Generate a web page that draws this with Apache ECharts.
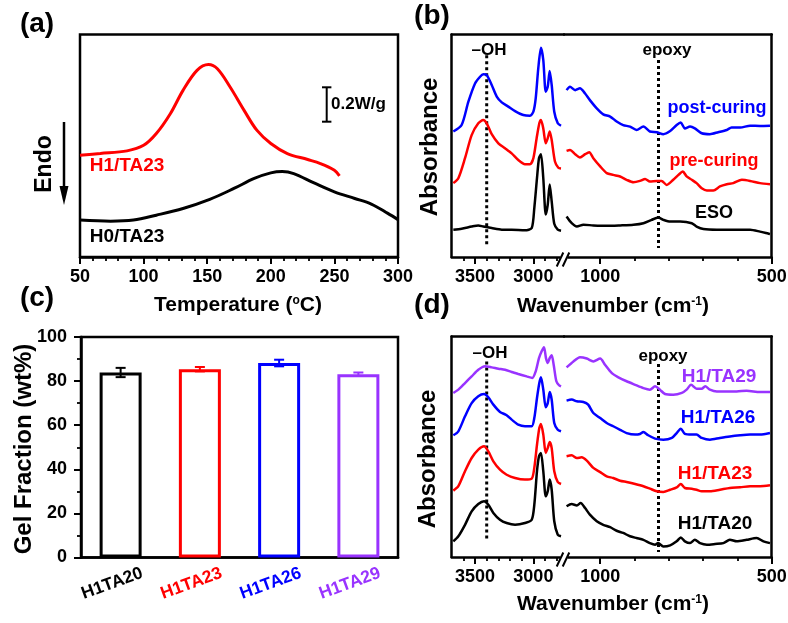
<!DOCTYPE html>
<html><head><meta charset="utf-8">
<script src="https://cdn.jsdelivr.net/npm/echarts@6/dist/echarts.min.js"></script>
<style>html,body{margin:0;padding:0;background:#fff}#c{width:788px;height:623px}</style>
</head><body><div id="c"></div>
<script>
// ---------------- DATA ----------------
// (a) DSC curves: temperature (°C) and heat flow (arbitrary offset units)
const dscTempH1 = [50,66,87,100,110,121,131,142,151,158,168,179,189,200,213,229,239,250,254];
const dscFlowH1 = [45.7,46.5,47.7,50.2,55.5,64.4,74.9,83.9,86.5,84.6,76.4,65.9,57.0,51.0,46.5,43.8,42.0,39.0,36.5];
const dscTempH0 = [50,74,92,110,131,152,171,187,200,209,218,234,250,266,279,292,300];
const dscFlowH0 = [16.6,16.1,16.6,18.8,21.8,25.9,30.8,35.3,37.8,38.4,37.5,33.3,29.3,26.3,23.8,19.6,16.8];

// (b) FTIR, high wavenumber segment
const bPostL_wn = [3686,3615,3557,3500,3457,3429,3400,3357,3314,3271,3215,3157,3086,3029,3000,2980,2958,2935,2915,2894,2877,2860,2843,2821,2791,2763];
const bPostL_a  = [56.4,59.3,69.8,78.0,81.0,82.1,81.8,77.3,72.1,69.5,67.6,65.6,63.8,63.5,65.3,71.3,84.8,94.0,88.5,74.3,76.5,83.6,77.3,65.3,60.1,59.0];
const bPreL_wn  = [3686,3643,3586,3529,3472,3429,3400,3357,3300,3243,3186,3129,3072,3029,3000,2972,2949,2935,2915,2894,2877,2860,2843,2815,2786,2763];
const bPreL_a   = [33.2,35.4,44.4,54.8,60.1,61.6,60.1,55.2,51.1,48.9,46.6,43.6,41.7,41.7,44.4,53.4,60.1,61.6,57.8,51.1,53.4,56.4,52.6,42.9,40.1,39.8];
const bEsoL_wn  = [3686,3615,3529,3472,3429,3357,3271,3186,3072,3014,2992,2969,2952,2935,2915,2894,2877,2860,2843,2821,2791,2763];
const bEsoL_a   = [12.3,12.7,13.7,14.2,13.7,13.0,12.3,12.3,12.0,13.0,22.0,35.4,44.4,46.2,35.4,19.1,23.5,32.6,25.0,14.9,12.3,11.8];
// (b) FTIR, low wavenumber segment
const bPostR_wn = [1098,1088,1073,1059,1044,1030,1010,991,971,952,933,913,894,874,855,835,816,796,777,765,753,738,724,704,680,656,631,617,592,563,534,505];
const bPostR_a  = [75.0,76.5,75.0,75.8,73.5,70.5,66.8,64.1,63.1,60.9,59.3,58.6,57.1,58.6,56.4,56.1,55.2,56.6,59.3,60.4,57.8,58.6,57.8,55.6,55.2,56.1,57.1,58.2,58.2,59.0,58.9,59.0];
const bPreR_wn  = [1098,1088,1073,1059,1044,1032,1020,1000,981,962,942,923,903,884,869,855,835,821,806,787,772,759,748,733,719,704,689,670,651,631,612,587,563,534,505];
const bPreR_a   = [47.7,48.1,46.2,44.7,46.2,47.1,44.4,40.7,37.7,36.9,36.2,34.7,33.6,34.2,35.1,33.9,34.2,34.2,32.4,34.7,36.9,38.4,36.2,34.7,33.2,30.9,29.9,29.9,31.7,32.7,33.2,34.7,34.2,33.2,32.7];
const bEsoR_wn  = [1098,1083,1068,1049,1020,981,942,903,874,850,831,816,796,767,733,719,699,660,612,563,534,505];
const bEsoR_a   = [18.2,15.2,13.7,14.5,14.2,14.0,14.2,14.5,15.2,16.7,17.7,16.7,15.9,15.9,15.2,13.7,12.6,12.3,12.3,12.3,11.4,10.3];

// (d) FTIR, high wavenumber segment
const dT29L_wn = [3686,3643,3586,3529,3472,3414,3357,3300,3243,3186,3129,3057,3009,2980,2952,2929,2909,2892,2877,2860,2843,2826,2803,2780,2763];
const dT29L_a  = [74.4,75.9,78.9,81.9,84.9,86.5,86.0,85.4,84.9,83.9,83.0,81.9,81.2,84.2,90.2,93.3,95.1,90.2,88.0,90.2,91.5,87.2,79.7,77.9,77.4];
const dT26L_wn = [3686,3643,3586,3529,3472,3423,3386,3343,3286,3229,3186,3129,3072,3014,2992,2969,2949,2935,2915,2894,2877,2860,2843,2821,2791,2763];
const dT26L_a  = [55.2,57.0,63.8,69.8,72.9,73.9,72.4,69.1,65.8,64.3,62.3,60.0,59.3,59.3,63.0,72.1,78.9,81.5,75.9,67.9,69.8,74.8,71.3,60.8,57.7,57.0];
const dT23L_wn = [3686,3643,3586,3529,3472,3423,3386,3343,3286,3229,3157,3072,3014,2992,2969,2949,2935,2915,2894,2877,2860,2843,2821,2791,2763];
const dT23L_a  = [30.1,32.1,38.9,44.9,48.7,50.2,47.9,43.4,39.6,37.3,35.8,35.1,35.5,40.4,50.9,58.5,60.3,55.5,47.2,49.4,52.2,49.4,38.9,34.0,33.1];
const dT20L_wn = [3686,3643,3586,3529,3472,3423,3386,3343,3286,3229,3157,3072,3014,2992,2969,2952,2935,2915,2894,2877,2860,2843,2821,2791,2763];
const dT20L_a  = [7.1,9.4,14.6,20.7,24.0,25.3,23.7,20.0,16.9,15.4,14.6,15.4,16.9,23.7,38.9,45.7,47.2,38.9,27.5,29.8,35.1,30.5,16.2,10.1,9.4];
// (d) FTIR, low wavenumber segment
const dT29R_wn = [1098,1078,1059,1039,1020,1000,986,966,947,923,898,874,855,840,826,811,787,762,748,735,719,704,694,680,660,631,602,573,534,505];
const dT29R_a  = [86.0,88.7,90.6,90.0,88.7,90.0,87.2,83.4,81.5,79.7,78.1,76.6,75.9,77.4,75.9,73.9,73.6,74.4,75.9,78.1,76.3,76.3,77.4,75.9,75.1,75.1,75.1,75.4,74.8,74.8];
const dT26R_wn = [1098,1083,1068,1049,1035,1020,1000,981,962,942,923,898,884,874,860,840,816,791,777,765,753,733,719,704,680,651,622,592,563,534,505];
const dT26R_a  = [70.9,71.4,70.6,70.3,69.1,65.3,63.0,60.8,59.3,57.7,56.2,55.5,55.8,56.7,55.2,53.7,53.2,54.0,56.2,58.2,55.8,55.5,55.5,54.0,53.2,54.0,54.7,55.2,55.5,55.5,56.2];
const dT23R_wn = [1098,1083,1068,1054,1039,1020,1000,981,962,942,923,898,874,855,835,816,796,777,765,753,733,719,704,680,651,622,592,563,534,505];
const dT23R_a  = [45.7,46.1,44.9,45.2,43.7,40.4,38.5,36.6,35.8,34.6,34.0,33.1,32.1,31.0,29.8,29.5,30.5,31.6,33.1,31.3,31.0,30.5,29.8,29.8,30.5,31.3,31.6,32.1,32.1,32.5];
const dT20R_wn = [1098,1083,1068,1057,1044,1030,1010,991,971,952,933,913,894,874,855,840,831,816,796,777,765,753,738,724,709,689,665,641,622,602,573,544,524,505];
const dT20R_a  = [23.0,24.0,23.4,24.5,22.2,19.2,16.2,14.6,13.5,11.9,10.9,9.4,8.6,7.8,6.3,5.6,6.3,4.8,5.3,7.1,8.9,7.1,6.3,7.8,6.3,5.6,5.9,6.3,7.8,7.1,7.8,8.6,7.1,6.3];

// reference lines (wavenumber, span in offset units)
const ohWn = 3400, epoxyWn = 830;
const bOhSpan = [90.7, 4.8], bEpoxySpan = [88.5, 4.0];
const dOhSpan = [88.7, 7.1], dEpoxySpan = [87.5, 2.3];

// (c) gel fraction
const gelCats = ['H1TA20','H1TA23','H1TA26','H1TA29'];
const gelMean = [83.9, 85.4, 88.2, 83.1];
const gelErr  = [2.1, 1.0, 1.5, 0.8];

// tick labels
const tempTicks = [50,100,150,200,250,300];
const hiWnLabels = [3500, 3000];
const hiWnMinor = [3600,3400,3300,3200,3100,2900,2800];
const loWnLabels = [1000, 500];
const loWnMinor = [900,800,700,600];

// ---------------- STYLE ----------------
const FONT = '"Liberation Sans", Arial, sans-serif';
const RED = '#ff0000', BLUE = '#0000ff', PURPLE = '#9933ff', BLACK = '#000000';
const gelColors = [BLACK, RED, BLUE, PURPLE];
const LW = 2.5;

const G = {
  a:  {left:80,    top:34.5, width:318,   height:222.5},
  bl: {left:451.7, top:34.5, width:112.3, height:222.5},
  br: {left:564,   top:34.5, width:207.7, height:222.5},
  c:  {left:81,    top:337,  width:317,   height:220.5},
  dl: {left:451.7, top:336.5,width:112.3, height:220.5},
  dr: {left:564,   top:336.5,width:207.7, height:220.5}
};
const HI_MIN = 2737.5, HI_MAX = 3700, LO_MIN = 500, LO_MAX = 1105.5;

function grid(g, border) {
  return Object.assign({containLabel:false, outerBoundsMode:'none', show:!!border,
    borderColor:BLACK, borderWidth:LW, backgroundColor:'transparent'}, g);
}
const labelStyle = {color:BLACK, fontSize:18, fontWeight:'bold', fontFamily:FONT};
const plain = v => String(v);
function frameX(gi, pos, min, max) {
  return {type:'value', gridIndex:gi, position:pos, min, max, axisLine:{show:true, onZero:false, lineStyle:{color:BLACK, width:LW}},
    axisTick:{show:false}, axisLabel:{show:false}, splitLine:{show:false}};
}
function minorX(gi, min, max, ticks) {
  return {type:'value', gridIndex:gi, position:'bottom', inverse:true, min, max,
    axisLine:{show:true, onZero:false, lineStyle:{color:BLACK, width:LW}},
    axisTick:{show:true, inside:false, length:4, customValues:ticks, lineStyle:{color:BLACK, width:1.8}},
    axisLabel:{show:false}, splitLine:{show:false}};
}
function majorX(gi, min, max, ticks) {
  return {type:'value', gridIndex:gi, position:'bottom', inverse:true, min, max,
    axisLine:{show:false, onZero:false},
    axisTick:{show:true, inside:false, length:7, customValues:ticks, lineStyle:{color:BLACK, width:2}},
    axisLabel:Object.assign({show:true, customValues:ticks, margin:11, formatter:plain}, labelStyle), splitLine:{show:false}};
}
function frameY(gi, pos) {
  return {type:'value', gridIndex:gi, position:pos, min:0, max:100,
    axisLine:{show:true, onZero:false, lineStyle:{color:BLACK, width:LW}},
    axisTick:{show:false}, axisLabel:{show:false}, splitLine:{show:false}};
}
function hiddenY(gi) {
  return {type:'value', gridIndex:gi, min:0, max:100, show:false, splitLine:{show:false}};
}
function zip(a, b) { return a.map((v, i) => [v, b[i]]); }
function line(wn, val, color, xi, yi, width, smooth) {
  return {type:'line', xAxisIndex:xi, yAxisIndex:yi, data:zip(wn, val), showSymbol:false, symbol:'none',
    smooth:smooth, lineStyle:{color, width}, itemStyle:{color}, silent:true, z:3};
}
function dotted(x, span, xi, yi) {
  return {type:'line', xAxisIndex:xi, yAxisIndex:yi, data:[[x, span[0]], [x, span[1]]], showSymbol:false, symbol:'none',
    lineStyle:{color:BLACK, width:3, type:[3,3]}, silent:true, z:2};
}
function txt(x, y, text, color, size, extra) {
  return Object.assign({type:'text', x, y, z:100, silent:true,
    style:Object.assign({text, fill:color, fontSize:size, fontWeight:'bold', fontFamily:FONT,
      align:'center', verticalAlign:'middle', textAlign:'center', textVerticalAlign:'middle'}, (extra||{}).style || {})},
    extra && extra.rotation ? {rotation:extra.rotation} : {});
}
function breakMark(yAxisPix) {
  return {type:'group', z:100, silent:true, children:[
    {type:'rect', shape:{x:560.5, y:yAxisPix-3, width:7, height:6}, style:{fill:'#fff'}, z:100},
    {type:'line', shape:{x1:556.7, y1:yAxisPix+9.5, x2:563.3, y2:yAxisPix-4.5}, style:{stroke:BLACK, lineWidth:2}, z:101},
    {type:'line', shape:{x1:562.7, y1:yAxisPix+9.5, x2:569.3, y2:yAxisPix-4.5}, style:{stroke:BLACK, lineWidth:2}, z:101}
  ]};
}
const supRich = {sup:{fontSize:12, fontWeight:'bold', fontFamily:FONT, verticalAlign:'top', fill:BLACK}};

const option = {
  animation:false,
  backgroundColor:'#ffffff',
  textStyle:{fontFamily:FONT},
  grid:[
    grid(G.a, true),   // 0
    grid(G.bl), grid(G.br), // 1,2
    grid(G.c, true),   // 3
    grid(G.dl), grid(G.dr), // 4,5
    grid(G.bl), grid(G.br), grid(G.dl), grid(G.dr) // 6..9 overlays
  ],
  xAxis:[
    // 0: (a)
    {type:'value', gridIndex:0, min:50, max:300, interval:50,
      axisLine:{show:true, onZero:false, lineStyle:{color:BLACK, width:LW}},
      axisTick:{show:true, inside:false, length:7, lineStyle:{color:BLACK, width:2}},
      minorTick:{show:true, splitNumber:5, length:4, lineStyle:{color:BLACK, width:1.8}},
      axisLabel:Object.assign({margin:11, customValues:tempTicks, formatter:plain}, labelStyle), splitLine:{show:false}},
    minorX(1, HI_MIN, HI_MAX, hiWnMinor),      // 1
    frameX(1, 'top', 0, 1),                     // 2
    minorX(2, LO_MIN, LO_MAX, loWnMinor),      // 3
    frameX(2, 'top', 0, 1),                     // 4
    // 5: (c) categories
    {type:'category', gridIndex:3, data:gelCats,
      axisLine:{show:true, onZero:false, lineStyle:{color:BLACK, width:LW}},
      axisTick:{show:false},
      axisLabel:{rotate:20, margin:23, align:'center', verticalAlign:'middle', interval:0, padding:[0, 18, 0, 0],
        formatter:(v, i) => '{c' + i + '|' + v + '}',
        rich:{
          c0:{color:gelColors[0], fontSize:17.5, fontWeight:'bold', fontFamily:FONT},
          c1:{color:gelColors[1], fontSize:17.5, fontWeight:'bold', fontFamily:FONT},
          c2:{color:gelColors[2], fontSize:17.5, fontWeight:'bold', fontFamily:FONT},
          c3:{color:gelColors[3], fontSize:17.5, fontWeight:'bold', fontFamily:FONT}
        }}},
    minorX(4, HI_MIN, HI_MAX, hiWnMinor),      // 6
    frameX(4, 'top', 0, 1),                     // 7
    minorX(5, LO_MIN, LO_MAX, loWnMinor),      // 8
    frameX(5, 'top', 0, 1),                     // 9
    majorX(6, HI_MIN, HI_MAX, hiWnLabels),     // 10
    majorX(7, LO_MIN, LO_MAX, loWnLabels),     // 11
    majorX(8, HI_MIN, HI_MAX, hiWnLabels),     // 12
    majorX(9, LO_MIN, LO_MAX, loWnLabels)      // 13
  ],
  yAxis:[
    hiddenY(0),               // 0
    frameY(1, 'left'),        // 1
    frameY(2, 'right'),       // 2
    {type:'value', gridIndex:3, min:0, max:100, interval:20,
      axisLine:{show:true, onZero:false, lineStyle:{color:BLACK, width:LW}},
      axisTick:{show:true, inside:false, length:7, lineStyle:{color:BLACK, width:2}},
      minorTick:{show:true, splitNumber:2, length:4, lineStyle:{color:BLACK, width:1.8}},
      axisLabel:Object.assign({margin:14}, labelStyle, {fontSize:18}), splitLine:{show:false}}, // 3
    frameY(4, 'left'),        // 4
    frameY(5, 'right'),       // 5
    hiddenY(6), hiddenY(7), hiddenY(8), hiddenY(9)
  ],
  series:[
    // (a)
    line(dscTempH1, dscFlowH1, RED, 0, 0, 3, 0.35),
    line(dscTempH0, dscFlowH0, BLACK, 0, 0, 3, 0.35),
    // (b)
    line(bPostL_wn, bPostL_a, BLUE, 1, 1, 2.5, 0.25),
    line(bPreL_wn, bPreL_a, RED, 1, 1, 2.5, 0.25),
    line(bEsoL_wn, bEsoL_a, BLACK, 1, 1, 2.5, 0.25),
    line(bPostR_wn, bPostR_a, BLUE, 3, 2, 2.5, 0.25),
    line(bPreR_wn, bPreR_a, RED, 3, 2, 2.5, 0.25),
    line(bEsoR_wn, bEsoR_a, BLACK, 3, 2, 2.5, 0.25),
    dotted(ohWn, bOhSpan, 1, 1),
    dotted(epoxyWn, bEpoxySpan, 3, 2),
    // (d)
    line(dT29L_wn, dT29L_a, PURPLE, 6, 4, 2.5, 0.25),
    line(dT26L_wn, dT26L_a, BLUE, 6, 4, 2.5, 0.25),
    line(dT23L_wn, dT23L_a, RED, 6, 4, 2.5, 0.25),
    line(dT20L_wn, dT20L_a, BLACK, 6, 4, 2.5, 0.25),
    line(dT29R_wn, dT29R_a, PURPLE, 8, 5, 2.5, 0.25),
    line(dT26R_wn, dT26R_a, BLUE, 8, 5, 2.5, 0.25),
    line(dT23R_wn, dT23R_a, RED, 8, 5, 2.5, 0.25),
    line(dT20R_wn, dT20R_a, BLACK, 8, 5, 2.5, 0.25),
    dotted(ohWn, dOhSpan, 6, 4),
    dotted(epoxyWn, dEpoxySpan, 8, 5),
    // (c)
    {type:'bar', xAxisIndex:5, yAxisIndex:3, barWidth:42, silent:true, z:2,
      data:gelMean.map((v, i) => ({value:v, itemStyle:{color:'#ffffff', borderColor:gelColors[i], borderWidth:3}}))},
    {type:'custom', xAxisIndex:5, yAxisIndex:3, silent:true, z:5,
      encode:{x:0, y:[1, 2]},
      data:gelMean.map((m, i) => [i, m - gelErr[i], m + gelErr[i]]),
      renderItem:(params, api) => {
        const i = api.value(0);
        const lo = api.coord([i, api.value(1)]);
        const hi = api.coord([i, api.value(2)]);
        const c = gelColors[params.dataIndex];
        const w = 5;
        const st = {stroke:c, lineWidth:2};
        return {type:'group', children:[
          {type:'line', shape:{x1:lo[0], y1:lo[1], x2:hi[0], y2:hi[1]}, style:st},
          {type:'line', shape:{x1:lo[0]-w, y1:lo[1], x2:lo[0]+w, y2:lo[1]}, style:st},
          {type:'line', shape:{x1:hi[0]-w, y1:hi[1], x2:hi[0]+w, y2:hi[1]}, style:st}
        ]};
      }}
  ],
  graphic:[
    // panel letters
    txt(37, 24, '(a)', BLACK, 28),
    txt(432, 16, '(b)', BLACK, 28),
    txt(37, 298, '(c)', BLACK, 28),
    txt(432, 305, '(d)', BLACK, 28),
    // (a) annotations
    txt(127, 166, 'H1/TA23', RED, 19),
    txt(127, 237, 'H0/TA23', BLACK, 19),
    {type:'text', x:331, y:104, z:100, silent:true, style:{text:'0.2W/g', fill:BLACK, fontSize:17, fontWeight:'bold', fontFamily:FONT, align:'left', verticalAlign:'middle', textAlign:'left', textVerticalAlign:'middle'}},
    {type:'group', z:100, silent:true, children:[
      {type:'line', shape:{x1:326.7, y1:87.3, x2:326.7, y2:121.7}, style:{stroke:BLACK, lineWidth:2}},
      {type:'line', shape:{x1:322, y1:87.3, x2:331.4, y2:87.3}, style:{stroke:BLACK, lineWidth:2}},
      {type:'line', shape:{x1:322, y1:121.7, x2:331.4, y2:121.7}, style:{stroke:BLACK, lineWidth:2}}
    ]},
    txt(45, 164, 'Endo', BLACK, 23, {rotation:Math.PI/2}),
    {type:'group', z:100, silent:true, children:[
      {type:'line', shape:{x1:64, y1:122, x2:64, y2:190}, style:{stroke:BLACK, lineWidth:2.5}},
      {type:'polygon', shape:{points:[[59.5,186],[68.5,186],[64,205]]}, style:{fill:BLACK}}
    ]},
    txt(238, 305, 'Temperature ({sup|o}C)', BLACK, 21, {style:{rich:supRich}}),
    // (b) annotations
    txt(489, 50, '\u2013OH', BLACK, 17),
    txt(667, 50, 'epoxy', BLACK, 17),
    txt(717, 108, 'post-curing', BLUE, 18),
    txt(714, 161, 'pre-curing', RED, 18),
    txt(714, 213, 'ESO', BLACK, 18),
    txt(430, 147, 'Absorbance', BLACK, 24, {rotation:Math.PI/2}),
    txt(613, 306, 'Wavenumber (cm{sup|-1})', BLACK, 21, {style:{rich:supRich}}),
    breakMark(257),
    // (c)
    txt(24, 449, 'Gel Fraction (wt%)', BLACK, 24, {rotation:Math.PI/2}),
    // (d) annotations
    txt(490, 353, '\u2013OH', BLACK, 17),
    txt(663, 356, 'epoxy', BLACK, 17),
    txt(719, 377, 'H1/TA29', PURPLE, 19),
    txt(718, 418, 'H1/TA26', BLUE, 19),
    txt(715, 474, 'H1/TA23', RED, 19),
    txt(715, 524, 'H1/TA20', BLACK, 19),
    txt(428, 459, 'Absorbance', BLACK, 24, {rotation:Math.PI/2}),
    txt(613, 604, 'Wavenumber (cm{sup|-1})', BLACK, 21, {style:{rich:supRich}}),
    breakMark(557)
  ]
};

const chart = echarts.init(document.getElementById('c'), null, {renderer:'canvas', width:788, height:623});
chart.setOption(option);
</script></body></html>
